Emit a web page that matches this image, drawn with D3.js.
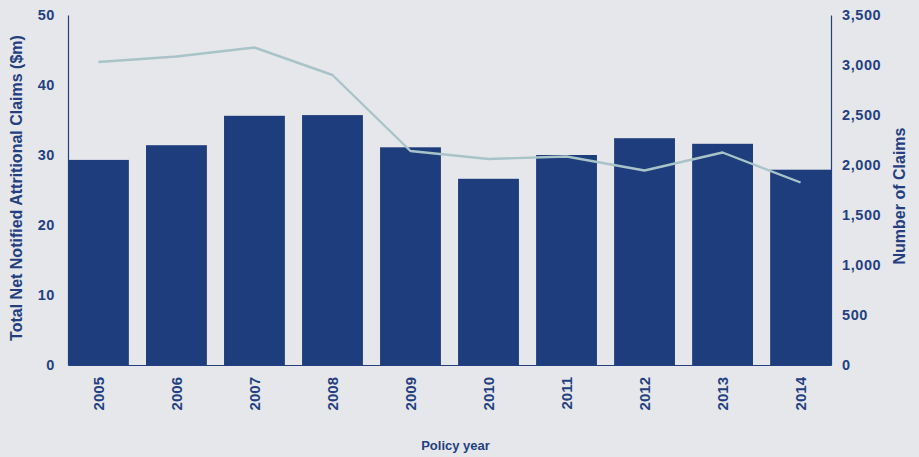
<!DOCTYPE html>
<html>
<head>
<meta charset="utf-8">
<script src="https://cdn.jsdelivr.net/npm/d3@7"></script>
<style>
  html, body { margin: 0; padding: 0; background: #e6e7eb; }
  svg { display: block; }
  text { font-family: "Liberation Sans", Arial, sans-serif; font-weight: bold; fill: #243f7f; }
</style>
</head>
<body>
<svg id="chart" width="919" height="457"></svg>
<script>
// Policy years and the two series plotted against them
const years = ["2005", "2006", "2007", "2008", "2009", "2010", "2011", "2012", "2013", "2014"];
const attritionalClaims = [29.3, 31.4, 35.6, 35.7, 31.1, 26.6, 30.0, 32.4, 31.6, 27.9]; // $m, bars
const claimCounts = [3030, 3085, 3175, 2900, 2140, 2060, 2085, 1945, 2125, 1825];       // line

const leftTicks = [0, 10, 20, 30, 40, 50];
const rightTicks = [0, 500, 1000, 1500, 2000, 2500, 3000, 3500];

const barColor = "#1e3d7c";
const lineColor = "#a8c4c9";
const inkColor = "#243f7f";

const svg = d3.select("#chart");
const plot = { left: 68, right: 831, top: 15, bottom: 365 };

const x = d3.scaleBand()
  .domain(years)
  .range([plot.left, plot.right])
  .paddingInner(0.22)
  .paddingOuter(0);

const yLeft = d3.scaleLinear().domain([0, 50]).range([plot.bottom, plot.top]);
const yRight = d3.scaleLinear().domain([0, 3500]).range([plot.bottom, plot.top]);

// Bars: net notified attritional claims
svg.append("g")
  .selectAll("rect")
  .data(years)
  .join("rect")
  .attr("x", d => x(d))
  .attr("width", x.bandwidth())
  .attr("y", (d, i) => yLeft(attritionalClaims[i]))
  .attr("height", (d, i) => yLeft(0) - yLeft(attritionalClaims[i]))
  .attr("fill", barColor);

// Line: number of claims on the right-hand scale
const line = d3.line()
  .x((d, i) => x(years[i]) + x.bandwidth() / 2)
  .y(d => yRight(d));

svg.append("path")
  .datum(claimCounts)
  .attr("d", line)
  .attr("fill", "none")
  .attr("stroke", lineColor)
  .attr("stroke-width", 2.4)
  .attr("stroke-linejoin", "round");

// Left axis
const axisLeft = d3.axisLeft(yLeft).tickValues(leftTicks).tickSize(0).tickPadding(13);
const gl = svg.append("g").attr("transform", `translate(${plot.left},0)`).call(axisLeft);
gl.select(".domain").attr("stroke", inkColor).attr("stroke-width", 1.2);
gl.selectAll(".tick text")
  .attr("font-size", 14.5)
  .attr("letter-spacing", 0.6)
  .attr("fill", inkColor)
  .attr("font-family", null);

// Right axis
const axisRight = d3.axisRight(yRight).tickValues(rightTicks).tickSize(0).tickPadding(11)
  .tickFormat(d3.format(","));
const gr = svg.append("g").attr("transform", `translate(${plot.right},0)`).call(axisRight);
gr.select(".domain").attr("stroke", inkColor).attr("stroke-width", 1.2);
gr.selectAll(".tick text")
  .attr("font-size", 14.5)
  .attr("letter-spacing", 0.6)
  .attr("fill", inkColor)
  .attr("font-family", null);

// Bottom axis with rotated year labels
const axisBottom = d3.axisBottom(x).tickSize(0).tickPadding(0);
const gb = svg.append("g").attr("transform", `translate(0,${plot.bottom})`).call(axisBottom);
gb.select(".domain").attr("stroke", inkColor).attr("stroke-width", 1);
gb.selectAll(".tick text")
  .attr("font-size", 15)
  .attr("fill", inkColor)
  .attr("font-family", null)
  .attr("text-anchor", "end")
  .attr("dy", "0.35em")
  .attr("transform", "translate(0,12) rotate(-90)")
  .attr("x", 0)
  .attr("y", 0);

// Axis titles
svg.append("text")
  .attr("transform", `translate(22,${(plot.top + plot.bottom) / 2 - 2}) rotate(-90)`)
  .attr("text-anchor", "middle")
  .attr("font-size", 16)
  .text("Total Net Notified Attritional Claims ($m)");

svg.append("text")
  .attr("transform", `translate(905,${(plot.top + plot.bottom) / 2 + 6}) rotate(-90)`)
  .attr("text-anchor", "middle")
  .attr("font-size", 16)
  .text("Number of Claims");

svg.append("text")
  .attr("x", (plot.left + plot.right) / 2 + 6)
  .attr("y", 450)
  .attr("text-anchor", "middle")
  .attr("font-size", 13)
  .text("Policy year");
</script>
</body>
</html>
